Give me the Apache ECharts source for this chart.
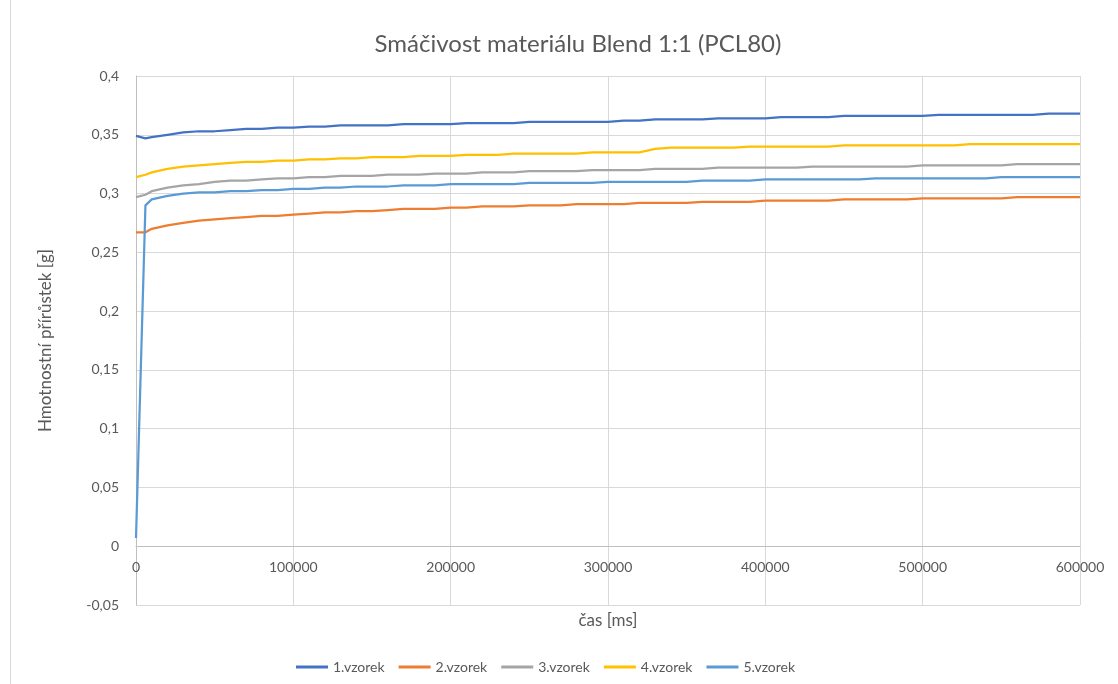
<!DOCTYPE html>
<html>
<head>
<meta charset="utf-8">
<script src="https://cdn.jsdelivr.net/npm/echarts@6/dist/echarts.min.js"></script>
<style>
  html, body { margin: 0; padding: 0; background: #fff; }
  #main { width: 1118px; height: 684px; }
  .frame { position: absolute; left: 10px; top: 0; width: 0; height: 684px; border-left: 1px solid #d9d9d9; }
</style>
</head>
<body>
<div class="frame"></div>
<div id="main"></div>
<script>
// čas [ms]
const times = [0, 6000, 10000, 20000, 30000, 40000, 50000, 60000, 70000, 80000, 90000,
  100000, 110000, 120000, 130000, 140000, 150000, 160000, 170000, 180000, 190000,
  200000, 210000, 220000, 230000, 240000, 250000, 260000, 270000, 280000, 290000,
  300000, 310000, 320000, 330000, 340000, 350000, 360000, 370000, 380000, 390000,
  400000, 410000, 420000, 430000, 440000, 450000, 460000, 470000, 480000, 490000,
  500000, 510000, 520000, 530000, 540000, 550000, 560000, 570000, 580000, 590000, 600000]

const vzorek1 = [0.349, 0.347, 0.348, 0.350, 0.352, 0.353, 0.353, 0.354, 0.355, 0.355, 0.356,
  0.356, 0.357, 0.357, 0.358, 0.358, 0.358, 0.358, 0.359, 0.359, 0.359,
  0.359, 0.360, 0.360, 0.360, 0.360, 0.361, 0.361, 0.361, 0.361, 0.361,
  0.361, 0.362, 0.362, 0.363, 0.363, 0.363, 0.363, 0.364, 0.364, 0.364,
  0.364, 0.365, 0.365, 0.365, 0.365, 0.366, 0.366, 0.366, 0.366, 0.366,
  0.366, 0.367, 0.367, 0.367, 0.367, 0.367, 0.367, 0.367, 0.368, 0.368, 0.368]

const vzorek2 = [0.267, 0.267, 0.270, 0.273, 0.275, 0.277, 0.278, 0.279, 0.280, 0.281, 0.281,
  0.282, 0.283, 0.284, 0.284, 0.285, 0.285, 0.286, 0.287, 0.287, 0.287,
  0.288, 0.288, 0.289, 0.289, 0.289, 0.290, 0.290, 0.290, 0.291, 0.291,
  0.291, 0.291, 0.292, 0.292, 0.292, 0.292, 0.293, 0.293, 0.293, 0.293,
  0.294, 0.294, 0.294, 0.294, 0.294, 0.295, 0.295, 0.295, 0.295, 0.295,
  0.296, 0.296, 0.296, 0.296, 0.296, 0.296, 0.297, 0.297, 0.297, 0.297, 0.297]

const vzorek3 = [0.297, 0.299, 0.302, 0.305, 0.307, 0.308, 0.310, 0.311, 0.311, 0.312, 0.313,
  0.313, 0.314, 0.314, 0.315, 0.315, 0.315, 0.316, 0.316, 0.316, 0.317,
  0.317, 0.317, 0.318, 0.318, 0.318, 0.319, 0.319, 0.319, 0.319, 0.320,
  0.320, 0.320, 0.320, 0.321, 0.321, 0.321, 0.321, 0.322, 0.322, 0.322,
  0.322, 0.322, 0.322, 0.323, 0.323, 0.323, 0.323, 0.323, 0.323, 0.323,
  0.324, 0.324, 0.324, 0.324, 0.324, 0.324, 0.325, 0.325, 0.325, 0.325, 0.325]

const vzorek4 = [0.314, 0.316, 0.318, 0.321, 0.323, 0.324, 0.325, 0.326, 0.327, 0.327, 0.328,
  0.328, 0.329, 0.329, 0.330, 0.330, 0.331, 0.331, 0.331, 0.332, 0.332,
  0.332, 0.333, 0.333, 0.333, 0.334, 0.334, 0.334, 0.334, 0.334, 0.335,
  0.335, 0.335, 0.335, 0.338, 0.339, 0.339, 0.339, 0.339, 0.339, 0.340,
  0.340, 0.340, 0.340, 0.340, 0.340, 0.341, 0.341, 0.341, 0.341, 0.341,
  0.341, 0.341, 0.341, 0.342, 0.342, 0.342, 0.342, 0.342, 0.342, 0.342, 0.342]

const vzorek5 = [0.007, 0.290, 0.295, 0.298, 0.300, 0.301, 0.301, 0.302, 0.302, 0.303, 0.303,
  0.304, 0.304, 0.305, 0.305, 0.306, 0.306, 0.306, 0.307, 0.307, 0.307,
  0.308, 0.308, 0.308, 0.308, 0.308, 0.309, 0.309, 0.309, 0.309, 0.309,
  0.310, 0.310, 0.310, 0.310, 0.310, 0.310, 0.311, 0.311, 0.311, 0.311,
  0.312, 0.312, 0.312, 0.312, 0.312, 0.312, 0.312, 0.313, 0.313, 0.313,
  0.313, 0.313, 0.313, 0.313, 0.313, 0.314, 0.314, 0.314, 0.314, 0.314, 0.314]

const seriesNames = ['1.vzorek', '2.vzorek', '3.vzorek', '4.vzorek', '5.vzorek']
const seriesData = [vzorek1, vzorek2, vzorek3, vzorek4, vzorek5]
const colors = ['#4472C4', '#ED7D31', '#A5A5A5', '#FFC000', '#5B9BD5']

const font = 'Lato, "Open Sans", sans-serif'
const textColor = '#595959'

let myChart = echarts.init(document.getElementById('main'))
let option = {
  color: colors,
  animation: false,
  textStyle: {fontFamily: font},
  title: {
    text: 'Smáčivost materiálu Blend 1:1 (PCL80)',
    left: 573,
    textAlign: 'center',
    top: 27,
    textStyle: {fontFamily: font, fontSize: 24, fontWeight: 'normal', color: textColor}
  },
  legend: {
    data: seriesNames,
    bottom: 5,
    left: 291,
    icon: 'rect',
    itemWidth: 32,
    itemHeight: 3,
    itemGap: 14,
    textStyle: {fontFamily: font, fontSize: 14, color: textColor}
  },
  grid: {left: 136, right: 38, top: 76, bottom: 79, containLabel: false},
  xAxis: {
    type: 'value',
    min: 0,
    max: 600000,
    interval: 100000,
    offset: -59,
    name: 'čas [ms]',
    nameLocation: 'middle',
    nameGap: 66,
    nameTextStyle: {fontFamily: font, fontSize: 17, color: textColor},
    axisLine: {onZero: false, lineStyle: {color: '#bfbfbf', width: 1}},
    axisTick: {show: false},
    axisLabel: {
      fontFamily: font, fontSize: 14, color: textColor, margin: 14,
      formatter: function (v) { return String(v) }
    },
    splitLine: {show: true, lineStyle: {color: '#d9d9d9', width: 1}}
  },
  yAxis: {
    type: 'value',
    min: -0.05,
    max: 0.4,
    interval: 0.05,
    name: 'Hmotnostní přírůstek [g]',
    nameLocation: 'middle',
    nameGap: 82,
    nameTextStyle: {fontFamily: font, fontSize: 17, color: textColor},
    axisLine: {show: true, lineStyle: {color: '#bfbfbf', width: 1}},
    axisTick: {show: false},
    axisLabel: {
      fontFamily: font, fontSize: 14, color: textColor, margin: 17,
      formatter: function (v) {
        let r = Math.round(v * 100) / 100
        return String(r).replace('.', ',')
      }
    },
    splitLine: {show: true, lineStyle: {color: '#d9d9d9', width: 1}}
  },
  series: seriesNames.map(function (name, i) {
    return {
      name: name,
      type: 'line',
      showSymbol: false,
      symbol: 'none',
      lineStyle: {width: 2.25, color: colors[i]},
      itemStyle: {color: colors[i]},
      data: times.map(function (t, j) { return [t, seriesData[i][j]] })
    }
  })
}
myChart.setOption(option)
</script>
</body>
</html>
